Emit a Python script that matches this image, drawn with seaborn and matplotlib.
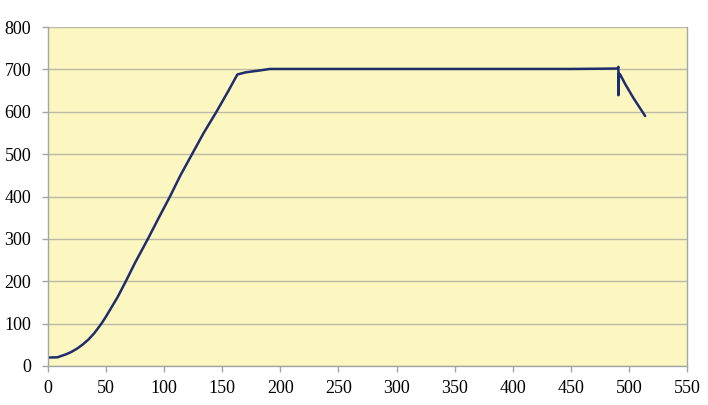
import pandas as pd
import seaborn as sns
import matplotlib.pyplot as plt

# curve
x_vals = [0, 8, 15, 20, 25, 30, 35, 40, 46, 50, 55, 60, 67, 75, 86, 95,
          105, 114, 124, 134, 145, 155, 163, 170, 181, 191, 250, 350,
          450, 490, 491, 491, 491.5, 492.5, 496.5, 504, 514]
y_vals = [20, 20.5, 27, 33, 41, 51, 63, 78, 100, 117, 140, 163, 200, 244,
          300, 348, 400, 450, 500, 550, 600, 648, 688, 693, 697, 701, 701,
          701, 701, 702, 706, 639, 690, 688, 667, 632, 590]

x_ticks = list(range(0, 551, 50))
y_ticks = list(range(0, 801, 100))

df = pd.DataFrame({"x": x_vals, "y": y_vals})

sns.set_style("white")
plt.rcParams["font.family"] = ["Liberation Serif", "DejaVu Serif"]

fig = plt.figure(figsize=(7.08, 4.05), dpi=100)
ax = fig.add_axes([0.0678, 0.0963, 0.9025, 0.837])
ax.set_facecolor("#FCF7C0")

sns.lineplot(data=df, x="x", y="y", sort=False, estimator=None,
             color="#1F2D6B", linewidth=1.8, ax=ax)

ax.set_xlim(0, 550)
ax.set_ylim(0, 800)
ax.set_xticks(x_ticks)
ax.set_yticks(y_ticks)
ax.set_xlabel("")
ax.set_ylabel("")
ax.yaxis.grid(True, color="#BDB9A4", linewidth=1.0)
ax.set_axisbelow(True)

for side in ["left", "bottom", "right"]:
    ax.spines[side].set_visible(True)
    ax.spines[side].set_color("#A5A5A5")
    ax.spines[side].set_linewidth(1.0)
ax.spines["top"].set_visible(False)

ax.tick_params(axis="both", which="both", length=4, width=1.0,
               color="#A5A5A5", labelsize=13, labelcolor="black",
               direction="out", bottom=True, left=True)
ax.tick_params(axis="x", pad=6)
ax.tick_params(axis="y", pad=8)

fig.savefig("out.png", dpi=100)
